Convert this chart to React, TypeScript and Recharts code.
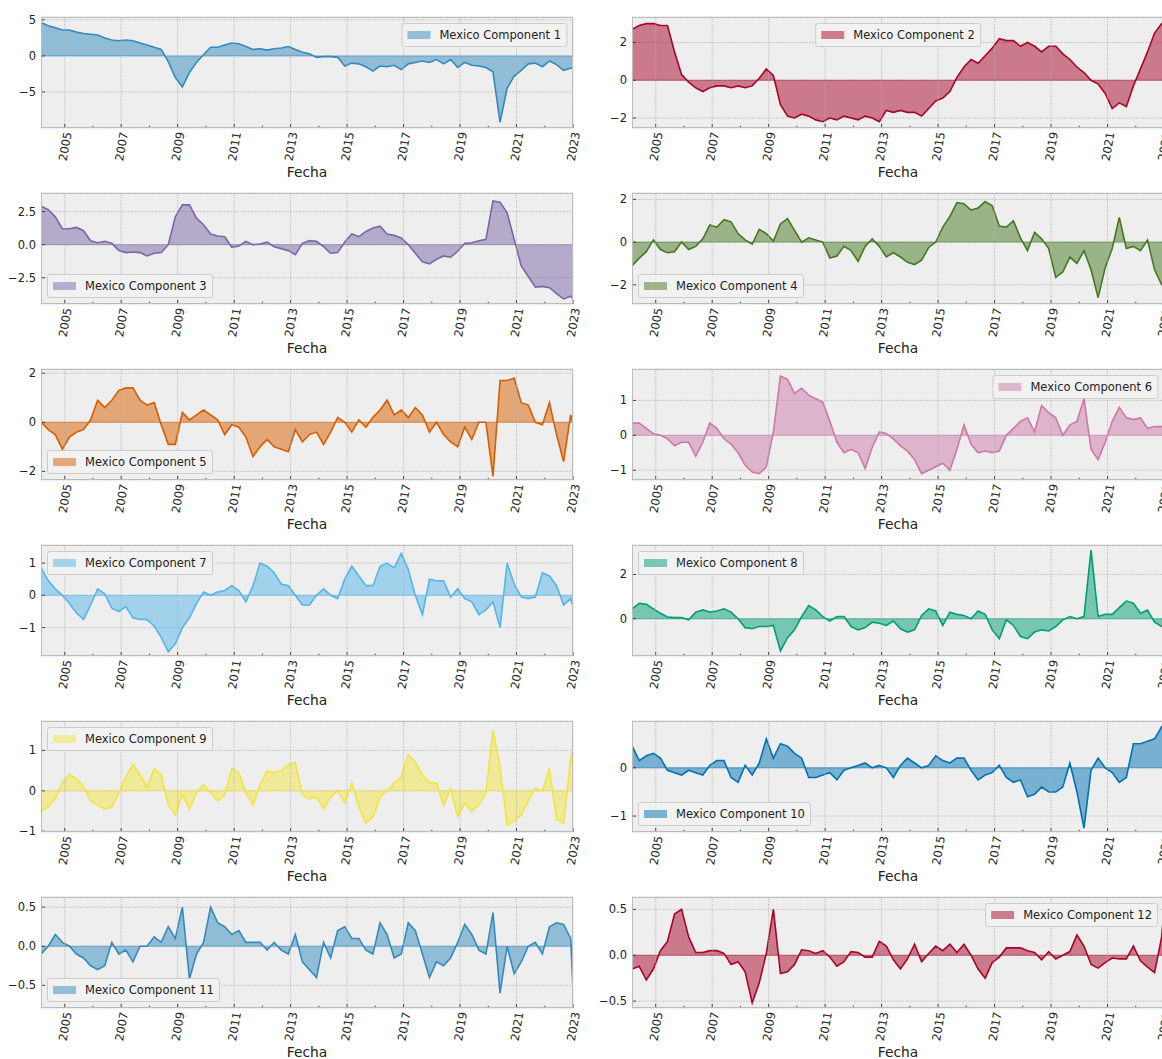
import React from "react";
import { AreaChart, Area, XAxis, YAxis, CartesianGrid, ReferenceLine } from "recharts";

const FONT = "'DejaVu Sans', 'Liberation Sans', sans-serif";

// quarterly sampling grid (Mar, Jun, Sep, Dec) + Jan 2023
const fechas: string[] = [];
for (let y = 2004; y <= 2022; y++) {
  for (const m of ["03", "06", "09", "12"]) fechas.push(`${y}-${m}`);
}
fechas.push("2023-01");

const toYear = (f: string) => {
  const [y, m] = f.split("-").map(Number);
  return y + (m - 1) / 12;
};

const tickYears = [2005, 2006, 2007, 2008, 2009, 2010, 2011, 2012, 2013, 2014, 2015, 2016, 2017, 2018, 2019, 2020, 2021, 2022, 2023];
const labelYears = [2005, 2007, 2009, 2011, 2013, 2015, 2017, 2019, 2021, 2023];

const comp1 = [
  4.6, 4.2, 3.9, 3.6, 3.6, 3.3, 3.1, 3.0,
  2.9, 2.5, 2.2, 2.1, 2.2, 2.1, 1.8, 1.5,
  1.2, 0.9, -0.8, -3.0, -4.3, -2.3, -0.9, 0.2,
  1.2, 1.2, 1.5, 1.8, 1.7, 1.3, 0.9, 1.0,
  0.8, 1.0, 1.1, 1.3, 0.9, 0.5, 0.3, -0.2,
  -0.1, -0.1, -0.2, -1.4, -1.0, -1.1, -1.5, -2.1,
  -1.4, -1.5, -1.3, -1.9, -1.1, -0.9, -0.7, -0.9,
  -0.5, -1.1, -0.5, -1.6, -0.9, -1.3, -1.4, -1.6,
  -2.2, -9.2, -4.5, -2.8, -2.0, -1.1, -1.0, -1.5,
  -0.7, -1.2, -2.0, -1.7, -1.6,
];

const comp2 = [
  2.7, 2.9, 3.0, 3.0, 2.9, 2.9, 1.5, 0.3,
  -0.1, -0.4, -0.6, -0.4, -0.3, -0.3, -0.4, -0.3,
  -0.4, -0.3, 0.1, 0.6, 0.25, -1.3, -1.9, -2.0,
  -1.8, -1.9, -2.1, -2.2, -2.0, -2.1, -1.9, -2.0,
  -2.1, -1.9, -2.0, -2.2, -1.6, -1.7, -1.6, -1.7,
  -1.7, -1.9, -1.5, -1.1, -0.95, -0.6, 0.15, 0.7,
  1.1, 0.9, 1.3, 1.7, 2.2, 2.1, 2.1, 1.8,
  2.0, 1.8, 1.5, 1.8, 1.8, 1.4, 1.1, 0.7,
  0.4, 0.0, -0.2, -0.7, -1.5, -1.2, -1.4, -0.3,
  0.6, 1.5, 2.5, 3.0, 3.0,
];

const comp3 = [
  2.9, 2.65, 2.1, 1.2, 1.2, 1.3, 1.05, 0.3,
  0.15, 0.25, 0.1, -0.45, -0.6, -0.55, -0.6, -0.85,
  -0.65, -0.6, 0.0, 2.1, 3.0, 3.0, 2.0, 1.5,
  0.8, 0.65, 0.6, -0.2, -0.1, 0.25, 0.0, 0.05,
  0.2, -0.15, -0.3, -0.45, -0.75, 0.1, 0.3, 0.25,
  -0.15, -0.65, -0.6, 0.2, 0.8, 0.6, 1.0, 1.25,
  1.4, 0.8, 0.7, 0.5, 0.0, -0.65, -1.3, -1.45,
  -1.1, -0.85, -0.95, -0.5, 0.1, 0.15, 0.3, 0.4,
  3.3, 3.2, 2.4, 0.4, -1.6, -2.4, -3.2, -3.15,
  -3.25, -3.7, -4.1, -3.9, -4.1,
];

const comp4 = [
  -1.1, -0.75, -0.45, 0.1, -0.35, -0.5, -0.45, 0.0,
  -0.35, -0.2, 0.15, 0.8, 0.7, 1.05, 0.95, 0.4,
  0.1, -0.1, 0.6, 0.4, 0.05, 0.85, 1.1, 0.55,
  0.0, 0.2, 0.1, 0.0, -0.75, -0.65, -0.2, -0.4,
  -0.9, -0.2, 0.15, -0.2, -0.7, -0.5, -0.7, -0.95,
  -1.05, -0.85, -0.25, 0.0, 0.7, 1.2, 1.85, 1.8,
  1.5, 1.6, 1.9, 1.7, 0.75, 0.7, 1.0, 0.2,
  -0.4, 0.45, 0.15, -0.3, -1.65, -1.4, -0.7, -1.0,
  -0.4, -1.3, -2.6, -1.2, -0.3, 1.15, -0.3, -0.2,
  -0.4, 0.1, -1.3, -2.0, -2.0,
];

const comp5 = [
  0.0, -0.3, -0.5, -1.1, -0.6, -0.4, -0.3, 0.1,
  0.9, 0.6, 0.9, 1.3, 1.4, 1.4, 0.9, 0.7,
  0.8, -0.1, -0.9, -0.9, 0.4, 0.1, 0.3, 0.5,
  0.3, 0.1, -0.5, -0.1, -0.2, -0.6, -1.4, -1.0,
  -0.7, -1.0, -1.1, -1.2, -0.3, -0.8, -0.5, -0.4,
  -0.9, -0.4, 0.2, 0.0, -0.4, 0.1, -0.2, 0.2,
  0.5, 0.9, 0.3, 0.5, 0.2, 0.6, 0.3, -0.4,
  0.0, -0.5, -0.8, -1.0, -0.2, -0.7, 0.0, 0.0,
  -2.2, 1.7, 1.7, 1.8, 0.8, 0.7, 0.0, -0.1,
  0.8, -0.5, -1.6, 0.3, 0.0,
];

const comp6 = [
  0.35, 0.35, 0.2, 0.05, 0.0, -0.1, -0.3, -0.2,
  -0.2, -0.6, -0.2, 0.35, 0.2, -0.1, -0.25, -0.5,
  -0.85, -1.05, -1.1, -0.9, 0.1, 1.7, 1.6, 1.2,
  1.35, 1.15, 1.05, 0.95, 0.4, -0.2, -0.5, -0.4,
  -0.5, -0.95, -0.35, 0.1, 0.05, -0.1, -0.3, -0.45,
  -0.7, -1.1, -1.0, -0.9, -0.8, -1.0, -0.4, 0.3,
  -0.25, -0.5, -0.45, -0.5, -0.45, 0.0, 0.2, 0.4,
  0.5, 0.1, 0.85, 0.65, 0.5, 0.0, 0.3, 0.4,
  1.05, -0.4, -0.7, -0.2, 0.4, 0.8, 0.5, 0.45,
  0.5, 0.2, 0.25, 0.25, 0.3,
];

const comp7 = [
  0.85, 0.45, 0.2, 0.0, -0.25, -0.55, -0.75, -0.3,
  0.2, 0.05, -0.4, -0.5, -0.35, -0.7, -0.75, -0.75,
  -0.95, -1.3, -1.75, -1.5, -1.0, -0.7, -0.25, 0.1,
  0.0, 0.1, 0.15, 0.3, 0.15, -0.2, 0.3, 1.0,
  0.9, 0.7, 0.35, 0.3, 0.0, -0.3, -0.3, 0.0,
  0.2, 0.0, -0.1, 0.5, 0.9, 0.6, 0.3, 0.3,
  0.9, 1.0, 0.85, 1.3, 0.8, 0.0, -0.6, 0.5,
  0.45, 0.45, -0.05, 0.2, -0.1, -0.2, -0.6, -0.45,
  -0.2, -1.0, 1.0, 0.35, -0.05, -0.1, -0.05, 0.7,
  0.6, 0.3, -0.3, -0.1, -0.35,
];

const comp8 = [
  0.45, 0.7, 0.65, 0.45, 0.25, 0.08, 0.05, 0.05,
  -0.05, 0.3, 0.4, 0.3, 0.35, 0.45, 0.3, 0.0,
  -0.4, -0.45, -0.35, -0.35, -0.3, -1.45, -0.85, -0.5,
  0.1, 0.6, 0.4, 0.1, -0.1, 0.1, 0.1, -0.35,
  -0.5, -0.4, -0.15, -0.2, -0.3, -0.1, -0.45, -0.6,
  -0.5, 0.15, 0.45, 0.35, -0.3, 0.3, 0.2, 0.15,
  0.0, 0.35, 0.2, -0.5, -0.9, -0.05, -0.3, -0.8,
  -0.9, -0.6, -0.5, -0.55, -0.35, -0.05, 0.1, 0.0,
  0.1, 3.1, 0.1, 0.2, 0.2, 0.5, 0.8, 0.7,
  0.25, 0.4, -0.15, -0.35, -0.35,
];

const comp9 = [
  -0.5, -0.4, -0.2, 0.2, 0.4, 0.3, 0.1, -0.25,
  -0.35, -0.45, -0.4, -0.05, 0.35, 0.65, 0.4, 0.1,
  0.55, 0.4, -0.35, -0.6, -0.1, -0.45, -0.05, 0.15,
  -0.05, -0.25, -0.1, 0.55, 0.45, -0.05, -0.35, 0.15,
  0.5, 0.45, 0.5, 0.65, 0.7, -0.1, -0.2, -0.15,
  -0.45, -0.15, 0.0, -0.3, 0.2, -0.4, -0.8, -0.65,
  -0.15, 0.0, 0.2, 0.35, 0.9, 0.7, 0.4, 0.2,
  0.2, -0.35, 0.05, -0.65, -0.3, -0.5, -0.35, -0.05,
  1.5, 0.6, -0.85, -0.75, -0.6, -0.25, 0.05, 0.0,
  0.55, -0.7, -0.8, 0.8, 1.1,
];

const comp10 = [
  0.45, 0.15, 0.25, 0.3, 0.2, -0.05, -0.1, -0.15,
  -0.05, -0.1, -0.15, 0.05, 0.15, 0.15, -0.2, -0.3,
  0.05, -0.15, 0.1, 0.6, 0.2, 0.5, 0.45, 0.3,
  0.2, -0.2, -0.2, -0.15, -0.1, -0.25, -0.05, 0.0,
  0.05, 0.1, 0.0, 0.05, 0.0, -0.2, 0.05, 0.2,
  0.1, 0.0, 0.05, 0.25, 0.15, 0.1, 0.2, 0.2,
  -0.05, -0.25, -0.15, -0.1, 0.05, -0.2, -0.3, -0.25,
  -0.6, -0.55, -0.4, -0.5, -0.5, -0.4, 0.1, -0.5,
  -1.25, -0.05, 0.2, 0.0, -0.1, -0.3, -0.2, 0.5,
  0.5, 0.55, 0.6, 0.85, 0.9,
];

const comp11 = [
  -0.1, 0.0, 0.15, 0.05, 0.0, -0.1, -0.15, -0.25,
  -0.3, -0.25, 0.05, -0.1, -0.05, -0.2, 0.0, 0.0,
  0.12, 0.05, 0.25, 0.1, 0.5, -0.42, -0.1, 0.05,
  0.5, 0.3, 0.25, 0.15, 0.2, 0.05, 0.05, 0.05,
  -0.05, 0.05, -0.05, -0.1, 0.15, -0.2, -0.3, -0.4,
  0.05, -0.15, 0.2, 0.25, 0.1, 0.1, -0.05, -0.1,
  0.3, 0.15, -0.15, -0.1, 0.3, 0.2, -0.1, -0.4,
  -0.2, -0.25, -0.15, 0.05, 0.28, 0.15, -0.05, -0.1,
  0.43, -0.6, 0.0, -0.35, -0.2, 0.0, 0.05, -0.1,
  0.25, 0.3, 0.28, 0.1, -0.55,
];

const comp12 = [
  -0.15, -0.12, -0.27, -0.15, 0.05, 0.15, 0.45, 0.5,
  0.2, 0.03, 0.03, 0.05, 0.05, 0.02, -0.1, -0.07,
  -0.18, -0.52, -0.3, 0.02, 0.5, -0.2, -0.18, -0.1,
  0.06, 0.05, 0.02, 0.05, -0.02, -0.12, -0.07, 0.04,
  0.03, -0.02, -0.02, 0.15, 0.1, -0.05, -0.15, -0.04,
  0.12, -0.07, 0.02, 0.1, 0.05, 0.12, 0.03, 0.12,
  0.0, -0.15, -0.25, -0.08, -0.02, 0.08, 0.08, 0.08,
  0.05, 0.03, -0.05, 0.04, -0.04, 0.0, 0.04, 0.22,
  0.1, -0.1, -0.14, -0.08, -0.03, -0.04, -0.04, 0.1,
  -0.06, -0.13, -0.19, 0.2, 0.5,
];

type Loc = "upper right" | "upper left" | "lower left" | "upper center";

const panels: {
  name: string;
  values: number[];
  color: string;
  domain: [number, number];
  ticks: number[];
  dec: number;
  legend: Loc;
}[] = [
  { name: "Mexico Component 1", values: comp1, color: "#348ABD", domain: [-10.0, 5.4], ticks: [-5, 0, 5], dec: 0, legend: "upper right" },
  { name: "Mexico Component 2", values: comp2, color: "#A60628", domain: [-2.53, 3.35], ticks: [-2, 0, 2], dec: 0, legend: "upper center" },
  { name: "Mexico Component 3", values: comp3, color: "#7A68A6", domain: [-4.48, 3.9], ticks: [-2.5, 0, 2.5], dec: 1, legend: "lower left" },
  { name: "Mexico Component 4", values: comp4, color: "#467821", domain: [-2.9, 2.3], ticks: [-2, 0, 2], dec: 0, legend: "lower left" },
  { name: "Mexico Component 5", values: comp5, color: "#D55E00", domain: [-2.35, 2.17], ticks: [-2, 0, 2], dec: 0, legend: "lower left" },
  { name: "Mexico Component 6", values: comp6, color: "#CC79A7", domain: [-1.28, 1.9], ticks: [-1, 0, 1], dec: 0, legend: "upper right" },
  { name: "Mexico Component 7", values: comp7, color: "#56B4E9", domain: [-1.88, 1.56], ticks: [-1, 0, 1], dec: 0, legend: "upper left" },
  { name: "Mexico Component 8", values: comp8, color: "#009E73", domain: [-1.68, 3.33], ticks: [0, 2], dec: 0, legend: "upper left" },
  { name: "Mexico Component 9", values: comp9, color: "#F0E442", domain: [-1.02, 1.73], ticks: [-1, 0, 1], dec: 0, legend: "upper left" },
  { name: "Mexico Component 10", values: comp10, color: "#0072B2", domain: [-1.33, 0.97], ticks: [-1, 0], dec: 0, legend: "lower left" },
  { name: "Mexico Component 11", values: comp11, color: "#348ABD", domain: [-0.79, 0.63], ticks: [-0.5, 0, 0.5], dec: 1, legend: "lower left" },
  { name: "Mexico Component 12", values: comp12, color: "#A60628", domain: [-0.575, 0.635], ticks: [-0.5, 0, 0.5], dec: 1, legend: "upper right" },
];

const T0 = 2004.16;
const T1 = 2023.0;
const PLOT_W = 532;
const PLOT_H = 111;
const Y_AXIS_W = 40;
const X_AXIS_H = 60;
const M_TOP = 10;
const M_RIGHT = 14;
const TEXT = "#222";

const XTick = (props: any) => {
  const { x, y, payload } = props;
  const yr = payload.value as number;
  const major = yr % 2 === 1;
  return (
    <g>
      <line x1={x} x2={x} y1={y} y2={y - (major ? 4 : 2.3)} stroke={TEXT} strokeWidth={0.8} />
      {major && (
        <text
          transform={`translate(${x + 3},${y + 4}) rotate(-80)`}
          textAnchor="end"
          dominantBaseline="central"
          fontSize={11.5}
          fontFamily={FONT}
          fill={TEXT}
        >
          {yr}
        </text>
      )}
    </g>
  );
};

const makeYTick = (dec: number) => (props: any) => {
  const { x, y, payload } = props;
  const label = (payload.value as number).toFixed(dec).replace("-", "\u2212");
  return (
    <g>
      <line x1={x} x2={x + 4} y1={y} y2={y} stroke={TEXT} strokeWidth={0.8} />
      <text x={x - 5} y={y} textAnchor="end" dominantBaseline="central" fontSize={11.5} fontFamily={FONT} fill={TEXT}>
        {label}
      </text>
    </g>
  );
};

function LegendBox({ name, color, loc, left, top }: { name: string; color: string; loc: Loc; left: number; top: number }) {
  const style: React.CSSProperties = {
    position: "absolute",
    display: "flex",
    alignItems: "center",
    padding: "4px 5px",
    border: "1px solid #cccccc",
    borderRadius: 3,
    background: "rgba(242,242,242,0.85)",
    fontFamily: FONT,
    fontSize: 11.5,
    lineHeight: "14px",
    color: TEXT,
    whiteSpace: "nowrap",
  };
  const pad = 6;
  if (loc === "upper right") {
    style.left = left + PLOT_W - pad;
    style.top = top + pad;
    style.transform = "translateX(-100%)";
  } else if (loc === "upper left") {
    style.left = left + pad;
    style.top = top + pad;
  } else if (loc === "lower left") {
    style.left = left + pad;
    style.top = top + PLOT_H - pad;
    style.transform = "translateY(-100%)";
  } else {
    style.left = left + PLOT_W / 2;
    style.top = top + pad;
    style.transform = "translateX(-50%)";
  }
  return (
    <div style={style}>
      <span style={{ display: "inline-block", width: 23, height: 8, background: color, opacity: 0.5, marginRight: 9 }} />
      {name}
    </div>
  );
}

function Panel({ index }: { index: number }) {
  const p = panels[index];
  const col = index % 2;
  const row = Math.floor(index / 2);
  const plotLeft = col === 0 ? 41 : 632;
  const plotTop = 17 + 176 * row;
  const data = fechas.map((f, i) => ({ t: toYear(f), v: p.values[i] }));

  return (
    <>
      <div style={{ position: "absolute", left: plotLeft - Y_AXIS_W, top: plotTop - M_TOP }}>
        <AreaChart
          width={Y_AXIS_W + PLOT_W + M_RIGHT}
          height={M_TOP + PLOT_H + X_AXIS_H}
          data={data}
          margin={{ top: M_TOP, right: M_RIGHT, bottom: 0, left: 0 }}
        >
          <CartesianGrid
            vertical={false}
            fill="#eeeeee"
            stroke="#b2b2b2"
            strokeWidth={0.6}
            strokeDasharray="2.1 0.9"
          />
          <XAxis
            type="number"
            dataKey="t"
            domain={[T0, T1]}
            allowDataOverflow
            ticks={tickYears}
            interval={0}
            tick={<XTick />}
            tickLine={false}
            axisLine={false}
            tickSize={0}
            tickMargin={0}
            height={X_AXIS_H}
            label={{ value: "Fecha", position: "insideBottom", offset: 11, fontSize: 13.8, fill: TEXT, fontFamily: FONT }}
          />
          <YAxis
            type="number"
            domain={p.domain}
            allowDataOverflow
            ticks={p.ticks}
            interval={0}
            tick={makeYTick(p.dec)}
            tickLine={false}
            axisLine={false}
            tickSize={0}
            tickMargin={0}
            width={Y_AXIS_W}
          />
          {labelYears.map((yr) => (
            <ReferenceLine key={yr} x={yr} stroke="#b2b2b2" strokeWidth={0.6} strokeDasharray="2.1 0.9" />
          ))}
          <ReferenceLine y={0} stroke={p.color} strokeOpacity={0.5} strokeWidth={1} />
          <Area
            type="linear"
            dataKey="v"
            baseValue={0}
            stroke={p.color}
            strokeWidth={1.6}
            fill={p.color}
            fillOpacity={0.5}
            dot={false}
            activeDot={false}
            isAnimationActive={false}
          />
        </AreaChart>
      </div>
      <div
        style={{
          position: "absolute",
          left: plotLeft,
          top: plotTop,
          width: PLOT_W,
          height: PLOT_H,
          border: "1px solid #bcbcbc",
          boxSizing: "border-box",
          pointerEvents: "none",
        }}
      />
      <LegendBox name={p.name} color={p.color} loc={p.legend} left={plotLeft} top={plotTop} />
    </>
  );
}

export default function App() {
  return (
    <div
      style={{
        position: "fixed",
        left: 0,
        top: 0,
        width: 1162,
        height: 1059,
        overflow: "hidden",
        background: "#ffffff",
        fontFamily: FONT,
      }}
    >
      {panels.map((_, i) => (
        <Panel key={i} index={i} />
      ))}
    </div>
  );
}
